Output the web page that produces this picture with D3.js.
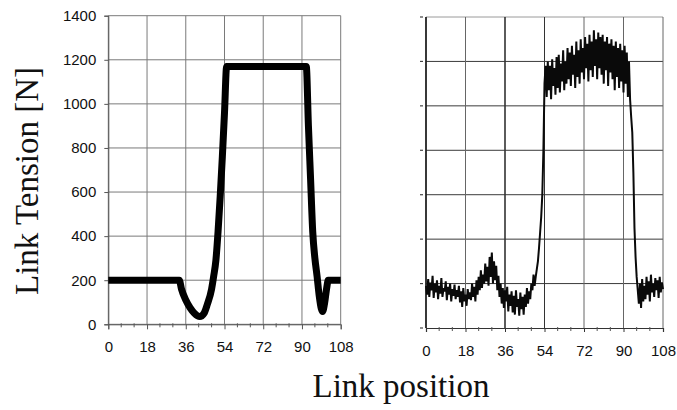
<!DOCTYPE html>
<html>
<head>
<meta charset="utf-8">
<script src="https://cdn.jsdelivr.net/npm/d3@7"></script>
<style>
  html, body { margin: 0; padding: 0; background: #fff; }
  svg { display: block; }
</style>
</head>
<body>
<svg id="chart" width="677" height="410"></svg>
<script>
// Link position ticks (shared by both panels)
const positionTicks = [0, 18, 36, 54, 72, 90, 108];
const minorTicks = [6, 12, 24, 30, 42, 48, 60, 66, 78, 84, 96, 102];
const tensionTicks = [0, 200, 400, 600, 800, 1000, 1200, 1400];

// Simulated link tension along the chain
const simPosition = [0, 33, 34, 36, 38, 40, 42.5, 44.5, 46, 48, 49, 50, 51, 52, 53, 54, 55,
                     92, 93, 94, 95, 96, 97, 98, 99, 99.6, 100.5, 101.5, 102.2, 108];
const simTension  = [200, 200, 160, 110, 75, 50, 35, 50, 90, 160, 220, 290, 420, 580, 760, 960, 1170,
                     1170, 900, 660, 420, 300, 220, 130, 70, 58, 95, 165, 200, 200];

// Measured link tension, sampled every 0.5 position units from 0 to 108
const measStart = 0, measStep = 0.5;
const measTension = [
  190,150,220,140,205,170,235,135,200,160,
  215,130,190,155,225,140,180,165,210,125,
  185,150,200,120,175,145,195,130,170,140,
  190,115,165,95,180,120,150,100,175,130,
  160,125,200,140,185,120,215,150,230,170,
  260,180,240,200,290,210,275,190,320,230,
  340,200,300,215,280,170,235,140,200,110,
  180,90,170,120,185,75,150,100,165,70,
  145,60,170,95,130,55,160,85,140,60,
  150,95,180,110,165,130,200,170,240,190,
  230,265,300,360,430,500,600,800,1100,1180,
  1040,1200,1070,1180,1030,1210,1090,1170,1050,1220,
  1080,1230,1060,1190,1110,1250,1070,1200,1100,1260,
  1120,1240,1090,1270,1140,1230,1080,1290,1130,1250,
  1100,1300,1150,1260,1120,1310,1170,1280,1110,1320,
  1160,1290,1130,1340,1180,1300,1120,1330,1170,1310,
  1140,1320,1100,1290,1160,1310,1090,1280,1150,1300,
  1120,1270,1070,1290,1130,1260,1080,1280,1110,1250,
  1060,1270,1100,1240,1040,1200,1030,950,880,700,
  450,320,230,170,110,200,90,220,120,190,
  130,230,150,210,120,240,160,200,140,225,
  170,215,135,230,160,205,175
];

const svg = d3.select("#chart");
const tickFont = "'Liberation Sans', Arial, sans-serif";

// ---------- left panel: simulation ----------
const xL = d3.scaleLinear().domain([0, 108]).range([108.3, 340.7]);
const yL = d3.scaleLinear().domain([0, 1400]).range([324.3, 15.7]);

const left = svg.append("g");

// grid
left.append("g").selectAll("line")
  .data(positionTicks).join("line")
  .attr("x1", d => xL(d)).attr("x2", d => xL(d))
  .attr("y1", yL(0)).attr("y2", yL(1400))
  .attr("stroke", "#7a7a7a").attr("stroke-width", 1);
left.append("g").selectAll("line")
  .data(tensionTicks).join("line")
  .attr("x1", xL(0)).attr("x2", xL(108))
  .attr("y1", d => yL(d)).attr("y2", d => yL(d))
  .attr("stroke", "#7a7a7a").attr("stroke-width", 1);

// y axis
const yAxisL = left.append("g")
  .attr("transform", `translate(${xL(0)},0)`)
  .call(d3.axisLeft(yL).tickValues(tensionTicks).tickFormat(d3.format("d"))
        .tickSize(4).tickPadding(8));
yAxisL.select(".domain").attr("stroke", "#555");
yAxisL.selectAll(".tick line").attr("stroke", "#555");
yAxisL.selectAll("text")
  .attr("font-family", tickFont).attr("font-size", 15).attr("fill", "#111");

// x axis
const xAxisL = left.append("g")
  .attr("transform", `translate(0,${yL(0)})`)
  .call(d3.axisBottom(xL).tickValues(positionTicks).tickFormat(d3.format("d"))
        .tickSize(5).tickPadding(12));
xAxisL.select(".domain").attr("stroke", "#555");
xAxisL.selectAll(".tick line").attr("stroke", "#555");
xAxisL.selectAll("text")
  .attr("font-family", tickFont).attr("font-size", 15).attr("fill", "#111");
left.append("g").selectAll("line")
  .data(minorTicks).join("line")
  .attr("x1", d => xL(d)).attr("x2", d => xL(d))
  .attr("y1", yL(0) - 1).attr("y2", yL(0) + 3)
  .attr("stroke", "#555");

// simulated curve
const simPts = simPosition.map((p, i) => [p, simTension[i]]);
left.append("path")
  .datum(simPts)
  .attr("fill", "none")
  .attr("stroke", "#000")
  .attr("stroke-width", 7)
  .attr("d", d3.line().x(d => xL(d[0])).y(d => yL(d[1])).curve(d3.curveMonotoneX));

// ---------- right panel: measurement ----------
const xR = d3.scaleLinear().domain([0, 108]).range([426, 663]);
const yR = d3.scaleLinear().domain([0, 1400]).range([328, 17]);

const right = svg.append("g");

right.append("g").selectAll("line")
  .data(tensionTicks.slice(1)).join("line")
  .attr("x1", xR(0)).attr("x2", xR(108))
  .attr("y1", d => yR(d)).attr("y2", d => yR(d))
  .attr("stroke", d => d === 1400 ? "#9a9a9a" : "#3a3a3a")
  .attr("stroke-width", 1);
right.append("g").selectAll("line")
  .data(positionTicks).join("line")
  .attr("x1", d => xR(d)).attr("x2", d => xR(d))
  .attr("y1", yR(0)).attr("y2", yR(1400))
  .attr("stroke", d => d === 0 ? "#222" : (d === 36 || d === 54 ? "#333" : "#666"))
  .attr("stroke-width", d => d === 0 ? 1.8 : (d === 36 ? 1.6 : 1));

// small tick marks on the left edge
right.append("g").selectAll("line")
  .data(tensionTicks).join("line")
  .attr("x1", xR(0) - 6).attr("x2", xR(0) - 3)
  .attr("y1", d => yR(d)).attr("y2", d => yR(d))
  .attr("stroke", "#444").attr("stroke-width", 1.2);

// bottom axis
const xAxisR = right.append("g")
  .attr("transform", `translate(0,${yR(0)})`)
  .call(d3.axisBottom(xR).tickValues(positionTicks).tickFormat(d3.format("d"))
        .tickSize(4).tickPadding(13));
xAxisR.select(".domain").attr("stroke", "#333").attr("stroke-width", 1.2);
xAxisR.selectAll(".tick line").attr("stroke", "#333");
xAxisR.selectAll("text")
  .attr("font-family", tickFont).attr("font-size", 15).attr("fill", "#111");
right.append("g").selectAll("line")
  .data(minorTicks).join("line")
  .attr("x1", d => xR(d)).attr("x2", d => xR(d))
  .attr("y1", yR(0) - 1).attr("y2", yR(0) + 3)
  .attr("stroke", "#555");

// measured trace
const measPts = measTension.map((v, i) => [measStart + i * measStep, v]);
right.append("path")
  .datum(measPts)
  .attr("fill", "none")
  .attr("stroke", "#0a0a0a")
  .attr("stroke-width", 2)
  .attr("d", d3.line().x(d => xR(d[0])).y(d => yR(d[1])));

// ---------- axis titles ----------
svg.append("text")
  .attr("transform", `translate(38,181) rotate(-90)`)
  .attr("text-anchor", "middle")
  .attr("font-family", "'Liberation Serif', 'Times New Roman', serif")
  .attr("font-size", 33)
  .attr("fill", "#111")
  .text("Link Tension [N]");

svg.append("text")
  .attr("x", 401).attr("y", 397)
  .attr("text-anchor", "middle")
  .attr("font-family", "'Liberation Serif', 'Times New Roman', serif")
  .attr("font-size", 33)
  .attr("fill", "#111")
  .text("Link position");
</script>
</body>
</html>
